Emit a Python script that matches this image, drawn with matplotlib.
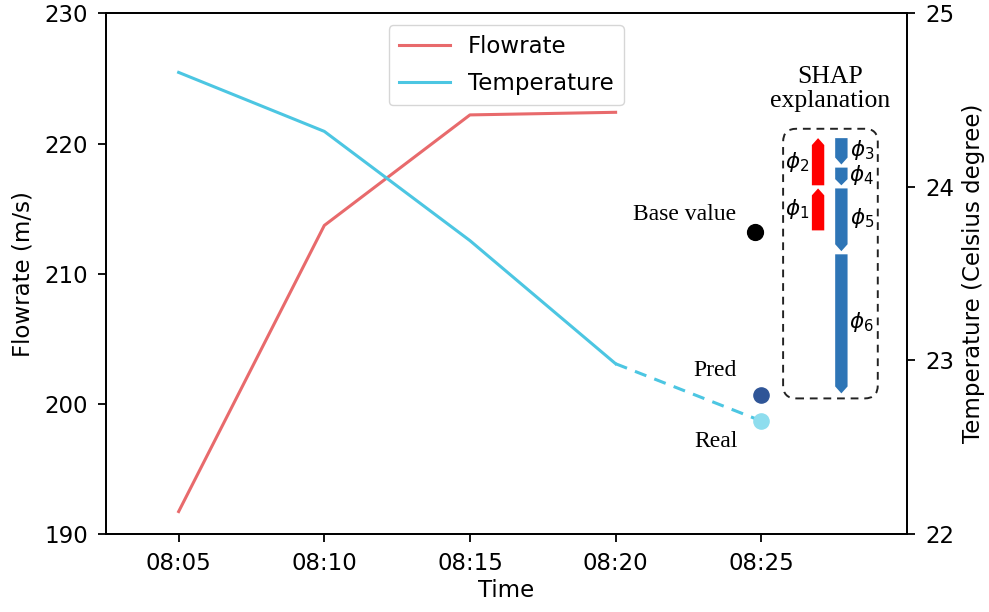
import numpy as np
import matplotlib.pyplot as plt
from matplotlib.patches import FancyBboxPatch

# Data
time_labels = ["08:05", "08:10", "08:15", "08:20", "08:25"]
flowrate = [191.7, 213.7, 222.2, 222.4]
temperature = [24.66, 24.32, 23.69, 22.98]
real_temp = 22.65
pred_temp = 22.80
base_value = 23.74
shap_labels = [r"$\phi_1$", r"$\phi_2$", r"$\phi_3$", r"$\phi_4$", r"$\phi_5$", r"$\phi_6$"]
shap_values = [0.26, 0.29, -0.17, -0.12, -0.38, -0.82]

c_flow = "#E86A6C"
c_temp = "#4CC6E2"
c_pred = "#2F5597"
c_real = "#8EDDEE"
c_pos = "#FF0000"
c_neg = "#2E75B6"
serif = "Liberation Serif"

fig = plt.figure(figsize=(9.89, 6.12), dpi=100)
ax = fig.add_axes([0.107, 0.128, 0.81, 0.85])
ax2 = ax.twinx()

x = np.arange(len(time_labels))
n = len(temperature)

l1, = ax.plot(x[:len(flowrate)], flowrate, color=c_flow, lw=2.2, label="Flowrate")
l2, = ax2.plot(x[:n], temperature, color=c_temp, lw=2.2, label="Temperature")
ax2.plot([x[n - 1], x[n]], [temperature[-1], real_temp], color=c_temp, lw=2.2,
         ls=(0, (4, 2.8)))

# base / pred / real points
x_end = x[n]
ax2.scatter([x_end - 0.04], [base_value], s=130, color="black", zorder=5)
ax2.scatter([x_end], [pred_temp], s=120, color=c_pred, zorder=5)
ax2.scatter([x_end], [real_temp], s=120, color=c_real, zorder=5)
ax2.text(x_end - 0.17, base_value + 0.1, "Base value", family=serif, fontsize=17,
         ha="right", va="center")
ax2.text(x_end - 0.17, pred_temp + 0.14, "Pred", family=serif, fontsize=17,
         ha="right", va="center")
ax2.text(x_end - 0.16, real_temp - 0.12, "Real", family=serif, fontsize=17,
         ha="right", va="center")

# SHAP waterfall arrows
x_pos, x_neg = 4.39, 4.55
w = 0.085
gap = 0.009
cum = base_value
tops, bots = [], []
for lab, v in zip(shap_labels, shap_values):
    start, end = cum, cum + v
    cum = end
    xc = x_pos if v > 0 else x_neg
    s = start + np.sign(v) * gap
    length = v - 2 * np.sign(v) * gap
    hl = min(0.04, abs(length) * 0.35)
    ax2.arrow(xc, s, 0, length, width=w, head_width=w, head_length=hl,
              length_includes_head=True, color=c_pos if v > 0 else c_neg,
              lw=0, zorder=4)
    tops.append(max(start, end))
    bots.append(min(start, end))
    mid = (start + end) / 2
    if v > 0:
        ax2.text(xc - 0.145, mid, lab, fontsize=15.5, ha="center", va="center")
    else:
        ax2.text(xc + 0.14, mid + 0.01, lab, fontsize=15.5, ha="center", va="center")

# dashed rounded box around the explanation
bx0, bx1 = x_pos - 0.24, x_neg + 0.25
by0, by1 = min(bots) - 0.02, max(tops) + 0.045
box = FancyBboxPatch((bx0, by0), bx1 - bx0, by1 - by0,
                     boxstyle="round,pad=0,rounding_size=0.09", mutation_aspect=0.84,
                     fill=False, ec="#222222", lw=1.4, ls=(0, (4, 3)), zorder=3)
ax2.add_patch(box)
ax2.text((bx0 + bx1) / 2, by1 + 0.23, "SHAP\nexplanation", family=serif, fontsize=18.5,
         ha="center", va="center", linespacing=1.15)

ax.set_xlim(-0.5, 5.0)
ax.set_ylim(190, 230)
ax2.set_ylim(22, 25)
ax.set_xticks(x)
ax.set_xticklabels(time_labels)
ax.set_yticks([190, 200, 210, 220, 230])
ax2.set_yticks([22, 23, 24, 25])

ax.set_xlabel("Time", fontsize=16.5, labelpad=3)
ax.set_ylabel("Flowrate (m/s)", fontsize=16.5, labelpad=7)
ax2.set_ylabel("Temperature (Celsius degree)", fontsize=16.5, labelpad=6)

for a in (ax, ax2):
    a.tick_params(labelsize=16.5, length=6, width=1.3, pad=7)
    for sp in a.spines.values():
        sp.set_linewidth(1.3)

leg = ax.legend([l1, l2], ["Flowrate", "Temperature"], loc="upper center",
                fontsize=16.5, handlelength=2.2, borderpad=0.45, labelspacing=0.6)
leg.get_frame().set_linewidth(1.0)

fig.savefig("out.png", dpi=100)
